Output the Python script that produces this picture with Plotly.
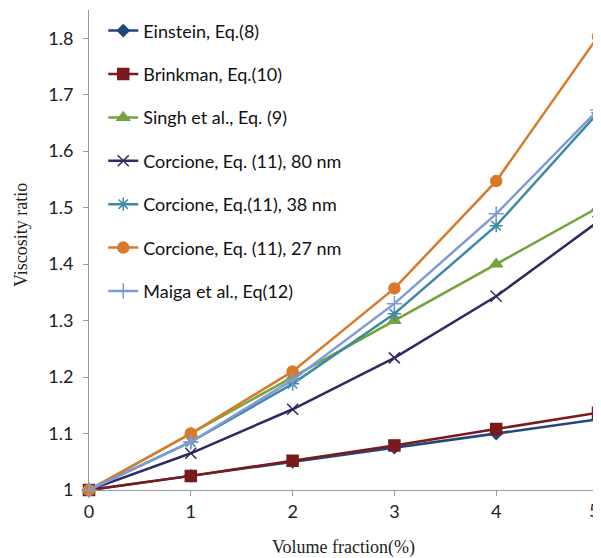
import plotly.graph_objects as go

volume_fraction = [0, 1, 2, 3, 4, 5]
einstein = [1.0, 1.025, 1.05, 1.075, 1.10, 1.125]
brinkman = [1.0, 1.025, 1.052, 1.079, 1.108, 1.137]
singh = [1.0, 1.10, 1.20, 1.30, 1.40, 1.50]
corcione_80 = [1.0, 1.065, 1.143, 1.234, 1.343, 1.475]
corcione_38 = [1.0, 1.085, 1.188, 1.312, 1.468, 1.668]
corcione_27 = [1.0, 1.10, 1.21, 1.357, 1.547, 1.803]
maiga = [1.0, 1.085, 1.195, 1.33, 1.489, 1.673]

y_ticks = [1.0, 1.1, 1.2, 1.3, 1.4, 1.5, 1.6, 1.7, 1.8]
y_ticktext = ["1", "1.1", "1.2", "1.3", "1.4", "1.5", "1.6", "1.7", "1.8"]

series = [
    ("Einstein, Eq.(8)", einstein, "#24467F", "diamond", 9),
    ("Brinkman, Eq.(10)", brinkman, "#7A1A1A", "square", 11),
    ("Singh et al., Eq. (9)", singh, "#76A33B", "triangle-up", 11),
    ("Corcione, Eq. (11), 80 nm", corcione_80, "#2E2A66", "x-thin-open", 11),
    ("Corcione, Eq.(11), 38 nm", corcione_38, "#3E8AA6", "asterisk-open", 11),
    ("Corcione, Eq. (11), 27 nm", corcione_27, "#D97A2B", "circle", 11),
    ("Maiga et al., Eq(12)", maiga, "#7F9AD6", "cross-thin-open", 11),
]

fig = go.Figure()
for i, (name, vals, color, sym, size) in enumerate(series):
    fig.add_trace(go.Scatter(
        x=volume_fraction, y=vals, name=name, mode="lines+markers",
        legendgroup=f"g{i}",
        line=dict(color=color, width=2.5),
        marker=dict(symbol=sym, size=size, color=color,
                    line=dict(color=color, width=1.5)),
        cliponaxis=False,
    ))

# last x tick label sits at the very edge of the window; keep it fully visible
fig.add_annotation(x=volume_fraction[-1], y=0, xref="x", yref="paper",
                   xanchor="right", yanchor="top", yshift=-7, xshift=3,
                   text=str(volume_fraction[-1]), showarrow=False,
                   font=dict(family="Lato", size=18, color="#222222"))

# y-axis title placed as a rotated annotation so it sits slightly above centre
fig.add_annotation(x=0, y=0.531, xref="paper", yref="paper",
                   xshift=-80, textangle=-90, showarrow=False,
                   text="Viscosity ratio",
                   font=dict(family="Liberation Serif", size=18, color="#222222"))

# page body has an 8px margin, so the figure is sized to fill the rest of the window
fig.update_layout(
    width=593, height=550,
    margin=dict(l=81, r=3, t=2, b=68),
    paper_bgcolor="white", plot_bgcolor="white",
    showlegend=True,
    legend=dict(x=0.028, y=0.995, xanchor="left", yanchor="top",
                font=dict(family="Lato", size=18, color="#111111"),
                tracegroupgap=17, bgcolor="rgba(0,0,0,0)"),
    xaxis=dict(range=[0, 5], tickvals=volume_fraction,
               showgrid=False, zeroline=False, showline=True,
               linecolor="#999999", linewidth=1, ticks="outside",
               ticklen=5, tickcolor="#999999",
               tickfont=dict(family="Lato", size=18, color="#222222"),
               title=dict(text="Volume fraction(%)",
                          font=dict(family="Liberation Serif", size=18, color="#222222"),
                          standoff=20)),
    yaxis=dict(range=[1, 1.85], tickvals=y_ticks, ticktext=y_ticktext,
               showgrid=False, zeroline=False, showline=True,
               linecolor="#999999", linewidth=1, ticks="outside",
               ticklen=5, tickcolor="#999999", ticklabelstandoff=6,
               tickfont=dict(family="Lato", size=18, color="#222222")),
)

fig.write_html("out.html")
